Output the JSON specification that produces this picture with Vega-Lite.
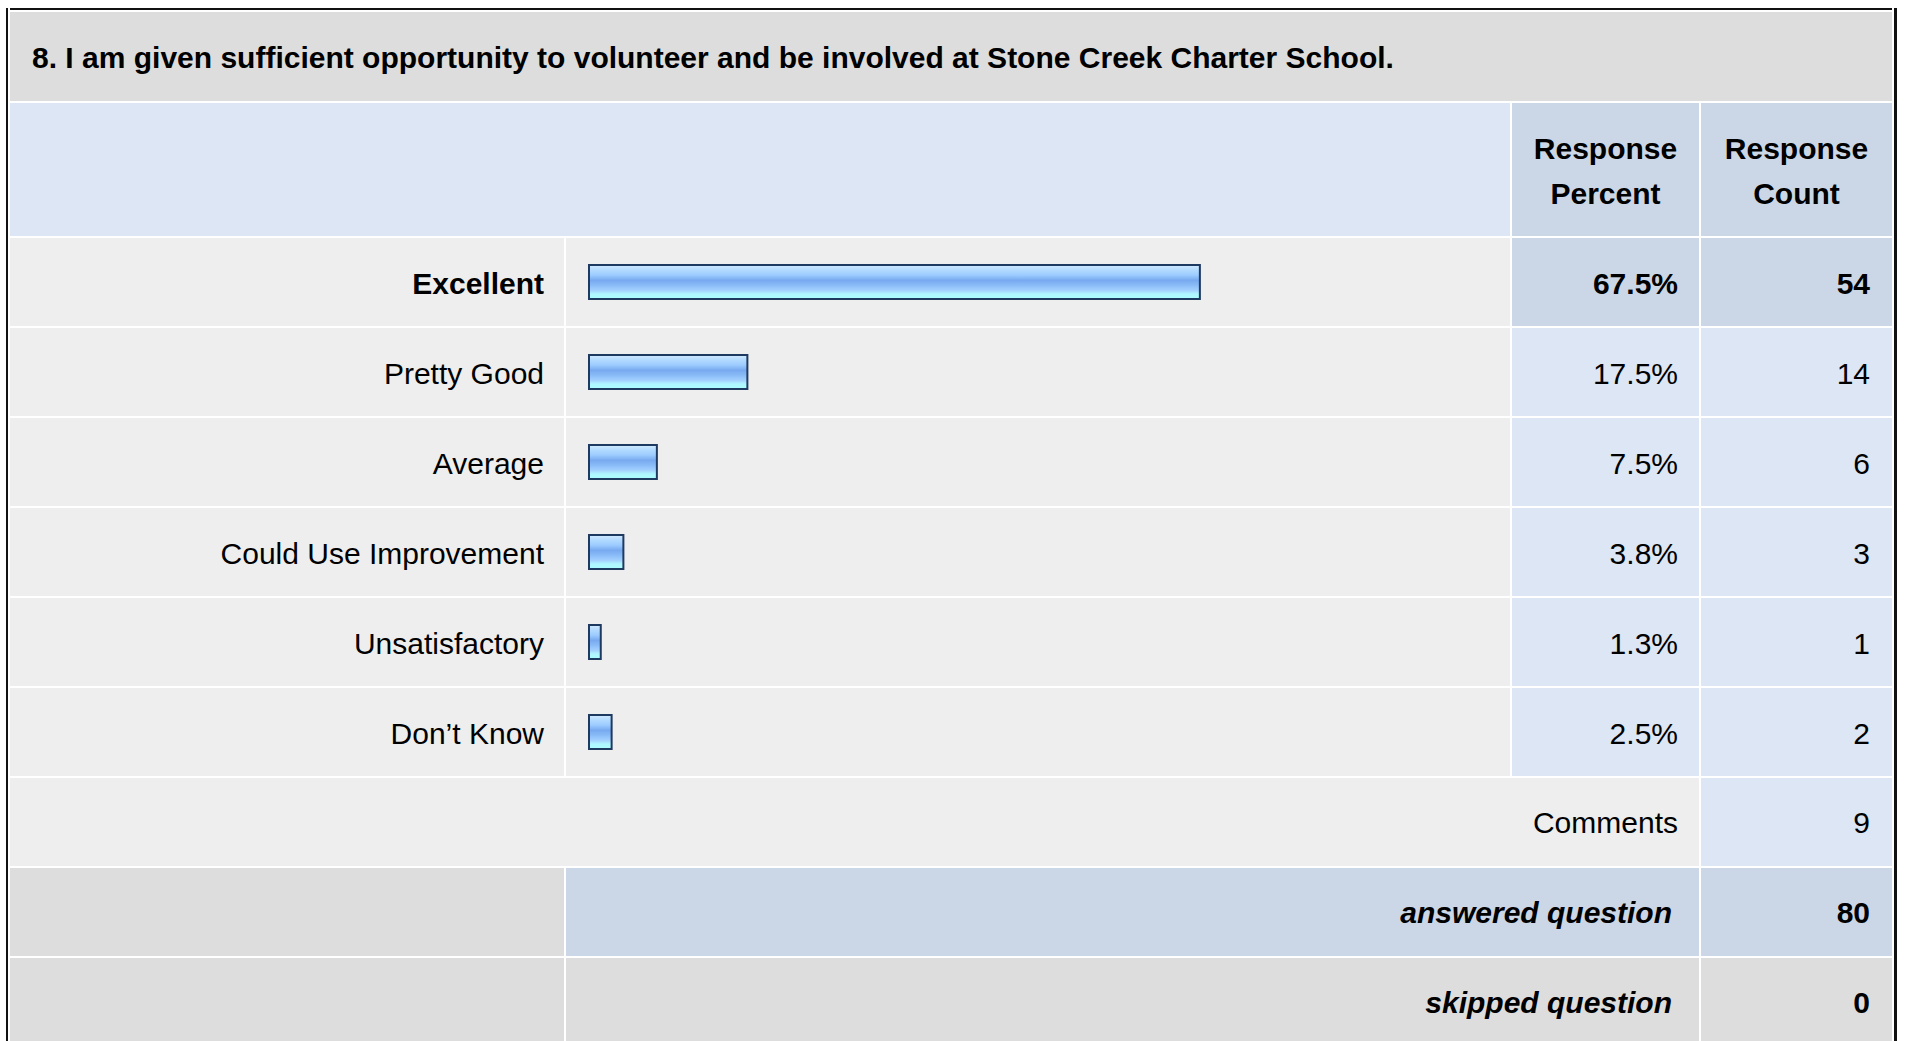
{
  "$schema": "https://vega.github.io/schema/vega-lite/v6.json",
  "padding": {"left": 6, "top": 8, "right": 0, "bottom": 0},
  "background": "white",
  "config": {
    "view": {"stroke": null},
    "text": {"font": "Liberation Sans", "fontSize": 30, "color": "#000000"},
    "concat": {"spacing": 2}
  },
  "datasets": {
    "question": [{"text": "8. I am given sufficient opportunity to volunteer and be involved at Stone Creek Charter School."}],
    "headers": [
      {"column": "percent", "label": ["Response", "Percent"]},
      {"column": "count", "label": ["Response", "Count"]}
    ],
    "answers": [
      {"answer": "Excellent", "percent": 0.675, "count": 54},
      {"answer": "Pretty Good", "percent": 0.175, "count": 14},
      {"answer": "Average", "percent": 0.075, "count": 6},
      {"answer": "Could Use Improvement", "percent": 0.038, "count": 3},
      {"answer": "Unsatisfactory", "percent": 0.013, "count": 1},
      {"answer": "Don’t Know", "percent": 0.025, "count": 2}
    ],
    "summary": [
      {"item": "Comments", "count": 9},
      {"item": "answered question", "count": 80},
      {"item": "skipped question", "count": 0}
    ]
  },
  "spacing": 2,
  "hconcat": [
    {"width": 2, "height": 1038, "data": {"values": [{}]}, "mark": {"type": "rect", "color": "#111111"}, "encoding": {"x": {"value": 0}, "x2": {"value": "width"}, "y": {"value": 0}, "y2": {"value": "height"}}},
    {
      "spacing": 2,
      "vconcat": [
        {"width": 1882, "height": 2, "data": {"values": [{}]}, "mark": {"type": "rect", "color": "#111111"}, "encoding": {"x": {"value": 0}, "x2": {"value": "width"}, "y": {"value": 0}, "y2": {"value": "height"}}},
        {
          "width": 1882, "height": 89, "view": {"fill": "#DDDDDD"},
          "data": {"name": "question"},
          "mark": {"type": "text", "align": "left", "baseline": "middle", "fontWeight": "bold", "x": 0, "dx": 22, "dy": 2},
          "encoding": {"text": {"field": "text"}}
        },
        {
          "spacing": 2,
          "hconcat": [
            {"width": 1500, "height": 133, "data": {"values": [{}]}, "mark": {"type": "rect", "color": "#DCE6F4"}, "encoding": {"x": {"value": 0}, "x2": {"value": "width"}, "y": {"value": 0}, "y2": {"value": "height"}}},
            {
              "width": 187, "height": 133, "view": {"fill": "#CBD7E6"},
              "data": {"name": "headers"},
              "transform": [{"filter": "datum.column === 'percent'"}],
              "mark": {"type": "text", "align": "center", "baseline": "middle", "fontWeight": "bold", "lineHeight": 45, "dy": -19.5},
              "encoding": {"text": {"field": "label"}}
            },
            {
              "width": 191, "height": 133, "view": {"fill": "#CBD7E6"},
              "data": {"name": "headers"},
              "transform": [{"filter": "datum.column === 'count'"}],
              "mark": {"type": "text", "align": "center", "baseline": "middle", "fontWeight": "bold", "lineHeight": 45, "dy": -19.5},
              "encoding": {"text": {"field": "label"}}
            }
          ]
        },
        {
          "spacing": 2,
          "hconcat": [
            {
              "width": 554, "height": 538,
              "data": {"name": "answers"},
              "encoding": {"y": {"field": "answer", "type": "nominal", "sort": null, "axis": null, "scale": {"paddingInner": 0.0222, "paddingOuter": 0}}},
              "layer": [
                {"mark": {"type": "rect", "color": "#EEEEEE"}, "encoding": {"x": {"value": 0}, "x2": {"value": "width"}}},
                {
                  "transform": [{"filter": "datum.answer === 'Excellent'"}],
                  "mark": {"type": "text", "align": "right", "baseline": "middle", "fontWeight": "bold", "x": "width", "dx": -20, "dy": 3},
                  "encoding": {"text": {"field": "answer"}}
                },
                {
                  "transform": [{"filter": "datum.answer !== 'Excellent'"}],
                  "mark": {"type": "text", "align": "right", "baseline": "middle", "letterSpacing": 0.5, "x": "width", "dx": -20, "dy": 3},
                  "encoding": {"text": {"field": "answer"}}
                }
              ]
            },
            {
              "width": 944, "height": 538,
              "data": {"name": "answers"},
              "encoding": {"y": {"field": "answer", "type": "nominal", "sort": null, "axis": null, "scale": {"paddingInner": 0.0222, "paddingOuter": 0}}},
              "layer": [
                {"mark": {"type": "rect", "color": "#EEEEEE"}, "encoding": {"x": {"value": 0}, "x2": {"value": "width"}}},
                {
                  "mark": {
                    "type": "bar", "height": 34, "x2Offset": 3,
                    "stroke": "#1F3A60", "strokeWidth": 2,
                    "fill": {
                      "gradient": "linear", "x1": 0, "y1": 0, "x2": 0, "y2": 1,
                      "stops": [
                        {"offset": 0, "color": "#D2EAFF"},
                        {"offset": 0.15, "color": "#B2DAFF"},
                        {"offset": 0.3, "color": "#9CCBFF"},
                        {"offset": 0.45, "color": "#78A9F0"},
                        {"offset": 0.6, "color": "#8ABCF8"},
                        {"offset": 0.75, "color": "#A4D2FF"},
                        {"offset": 0.85, "color": "#B0F6FF"},
                        {"offset": 1, "color": "#AAFFFF"}
                      ]
                    }
                  },
                  "encoding": {
                    "x": {"field": "percent", "type": "quantitative", "axis": null, "scale": {"domain": [0, 1], "range": [23, 928], "zero": true, "nice": false}}
                  }
                }
              ]
            },
            {
              "width": 187, "height": 538,
              "data": {"name": "answers"},
              "encoding": {"y": {"field": "answer", "type": "nominal", "sort": null, "axis": null, "scale": {"paddingInner": 0.0222, "paddingOuter": 0}}},
              "layer": [
                {
                  "mark": {"type": "rect"},
                  "encoding": {
                    "x": {"value": 0}, "x2": {"value": "width"},
                    "color": {"condition": {"test": "datum.answer === 'Excellent'", "value": "#CBD7E6"}, "value": "#DCE6F4"}
                  }
                },
                {
                  "transform": [{"filter": "datum.answer === 'Excellent'"}],
                  "mark": {"type": "text", "align": "right", "baseline": "middle", "fontWeight": "bold", "x": "width", "dx": -21, "dy": 3},
                  "encoding": {"text": {"field": "percent", "type": "quantitative", "format": ".1%"}}
                },
                {
                  "transform": [{"filter": "datum.answer !== 'Excellent'"}],
                  "mark": {"type": "text", "align": "right", "baseline": "middle", "letterSpacing": 0.3, "x": "width", "dx": -21, "dy": 3},
                  "encoding": {"text": {"field": "percent", "type": "quantitative", "format": ".1%"}}
                }
              ]
            },
            {
              "width": 191, "height": 538,
              "data": {"name": "answers"},
              "encoding": {"y": {"field": "answer", "type": "nominal", "sort": null, "axis": null, "scale": {"paddingInner": 0.0222, "paddingOuter": 0}}},
              "layer": [
                {
                  "mark": {"type": "rect"},
                  "encoding": {
                    "x": {"value": 0}, "x2": {"value": "width"},
                    "color": {"condition": {"test": "datum.answer === 'Excellent'", "value": "#CBD7E6"}, "value": "#DCE6F4"}
                  }
                },
                {
                  "transform": [{"filter": "datum.answer === 'Excellent'"}],
                  "mark": {"type": "text", "align": "right", "baseline": "middle", "fontWeight": "bold", "x": "width", "dx": -22, "dy": 3},
                  "encoding": {"text": {"field": "count", "type": "quantitative"}}
                },
                {
                  "transform": [{"filter": "datum.answer !== 'Excellent'"}],
                  "mark": {"type": "text", "align": "right", "baseline": "middle", "x": "width", "dx": -22, "dy": 3},
                  "encoding": {"text": {"field": "count", "type": "quantitative"}}
                }
              ]
            }
          ]
        },
        {
          "spacing": 2,
          "hconcat": [
            {
              "width": 1689, "height": 88, "view": {"fill": "#EEEEEE"},
              "data": {"name": "summary"},
              "transform": [{"filter": "datum.item === 'Comments'"}],
              "mark": {"type": "text", "align": "right", "baseline": "middle", "letterSpacing": 0.8, "x": "width", "dx": -21, "dy": 2},
              "encoding": {"text": {"field": "item"}}
            },
            {
              "width": 191, "height": 88, "view": {"fill": "#DCE6F4"},
              "data": {"name": "summary"},
              "transform": [{"filter": "datum.item === 'Comments'"}],
              "mark": {"type": "text", "align": "right", "baseline": "middle", "x": "width", "dx": -22, "dy": 2},
              "encoding": {"text": {"field": "count", "type": "quantitative"}}
            }
          ]
        },
        {
          "spacing": 2,
          "hconcat": [
            {"width": 554, "height": 88, "data": {"values": [{}]}, "mark": {"type": "rect", "color": "#DDDDDD"}, "encoding": {"x": {"value": 0}, "x2": {"value": "width"}, "y": {"value": 0}, "y2": {"value": "height"}}},
            {
              "width": 1133, "height": 88, "view": {"fill": "#CBD7E6"},
              "data": {"name": "summary"},
              "transform": [{"filter": "datum.item === 'answered question'"}],
              "mark": {"type": "text", "align": "right", "baseline": "middle", "fontWeight": "bold", "fontStyle": "italic", "letterSpacing": 0.5, "x": "width", "dx": -27, "dy": 2},
              "encoding": {"text": {"field": "item"}}
            },
            {
              "width": 191, "height": 88, "view": {"fill": "#CBD7E6"},
              "data": {"name": "summary"},
              "transform": [{"filter": "datum.item === 'answered question'"}],
              "mark": {"type": "text", "align": "right", "baseline": "middle", "fontWeight": "bold", "x": "width", "dx": -22, "dy": 2},
              "encoding": {"text": {"field": "count", "type": "quantitative"}}
            }
          ]
        },
        {
          "spacing": 2,
          "hconcat": [
            {"width": 554, "height": 88, "data": {"values": [{}]}, "mark": {"type": "rect", "color": "#DDDDDD"}, "encoding": {"x": {"value": 0}, "x2": {"value": "width"}, "y": {"value": 0}, "y2": {"value": "height"}}},
            {
              "width": 1133, "height": 88, "view": {"fill": "#DDDDDD"},
              "data": {"name": "summary"},
              "transform": [{"filter": "datum.item === 'skipped question'"}],
              "mark": {"type": "text", "align": "right", "baseline": "middle", "fontWeight": "bold", "fontStyle": "italic", "letterSpacing": 0.3, "x": "width", "dx": -27, "dy": 2},
              "encoding": {"text": {"field": "item"}}
            },
            {
              "width": 191, "height": 88, "view": {"fill": "#DDDDDD"},
              "data": {"name": "summary"},
              "transform": [{"filter": "datum.item === 'skipped question'"}],
              "mark": {"type": "text", "align": "right", "baseline": "middle", "fontWeight": "bold", "x": "width", "dx": -22, "dy": 2},
              "encoding": {"text": {"field": "count", "type": "quantitative"}}
            }
          ]
        }
      ]
    },
    {"width": 3, "height": 1038, "data": {"values": [{}]}, "mark": {"type": "rect", "color": "#111111"}, "encoding": {"x": {"value": 0}, "x2": {"value": "width"}, "y": {"value": 0}, "y2": {"value": "height"}}}
  ]
}
